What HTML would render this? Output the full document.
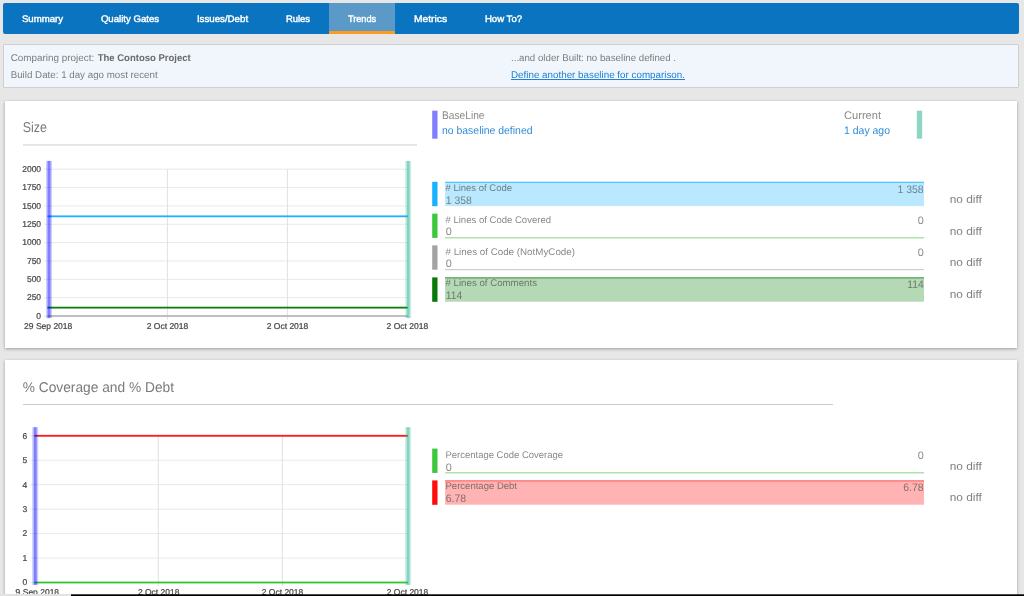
<!DOCTYPE html>
<html lang="en"><head><meta charset="utf-8"><title>Trends</title>
<style>
html,body{margin:0;padding:0;}
body{width:1024px;height:596px;overflow:hidden;background:#e7e7e7;position:relative;font-family:'Liberation Sans', Arial, sans-serif;}
.abs{position:absolute;}
#wrap{position:absolute;left:0;top:0;width:1024px;height:596px;will-change:transform;}
#nav{left:3px;top:3px;width:1016px;height:31px;background:#0b74c0;border-radius:2px;}
#act{left:329px;top:3px;width:66px;height:28px;background:#5a99c8;border-bottom:3px solid #fb9c1d;}
#info{left:3px;top:44px;width:1014px;height:42px;background:#f0f6fc;border:1px solid #cfcfcf;border-radius:1px;}
.card{background:#fff;box-shadow:0 1px 3px rgba(0,0,0,0.33);}
#c1{left:5px;top:101px;width:1012px;height:247px;}
#c2{left:5px;top:360px;width:1012px;height:260px;}
svg text{font-family:'Liberation Sans', Arial, sans-serif;text-rendering:geometricPrecision;white-space:pre;}
</style></head><body><div id="wrap">
<div class="abs" id="nav"></div>
<div class="abs" id="act"></div>
<div class="abs" id="info"></div>
<div class="abs card" id="c1"></div>
<div class="abs card" id="c2"></div>
<svg class="abs" style="left:0;top:0" width="1024" height="596" viewBox="0 0 1024 596">
<defs><clipPath id="clp"><rect x="15" y="580" width="100" height="20"/></clipPath></defs>
<rect x="23" y="144.30" width="394" height="1.3" fill="#dbdbdb"/>
<rect x="23" y="404.00" width="810" height="1" fill="#c9c9c9"/>
<rect x="432.2" y="110.70" width="5.3" height="28" fill="#8080ff"/>
<rect x="916.8" y="110.70" width="5.4" height="28" fill="#8fd5c3"/>
<rect x="432.2" y="181.80" width="5.3" height="24.4" fill="#1ab2ff"/>
<rect x="445.1" y="181.80" width="478.9" height="24.3" fill="#b9e8ff"/>
<rect x="445.1" y="181.80" width="478.9" height="1.0" fill="#3bbcff"/>
<rect x="432.2" y="213.60" width="5.3" height="24.3" fill="#3cc73c"/>
<rect x="445.1" y="237.20" width="478.9" height="1.2" fill="#96de96"/>
<rect x="432.2" y="245.40" width="5.3" height="24.3" fill="#a3a3a3"/>
<rect x="445.1" y="269.00" width="478.9" height="1.2" fill="#cdcdcd"/>
<rect x="432.2" y="277.40" width="5.3" height="24.4" fill="#087808"/>
<rect x="445.1" y="277.40" width="478.9" height="24.3" fill="#b5d8b5"/>
<rect x="445.1" y="277.40" width="478.9" height="1.0" fill="#3d953d"/>
<rect x="432.2" y="448.60" width="5.3" height="24.3" fill="#3cc73c"/>
<rect x="445.1" y="472.20" width="478.9" height="1.2" fill="#96de96"/>
<rect x="432.2" y="480.40" width="5.3" height="24.4" fill="#ff0d0d"/>
<rect x="445.1" y="480.40" width="478.9" height="24.3" fill="#ffb3b3"/>
<rect x="445.1" y="480.40" width="478.9" height="1.0" fill="#ff5c5c"/>
<rect x="44" y="315.50" width="363.4" height="1" fill="#e9e9e9"/>
<rect x="44" y="297.15" width="363.4" height="1" fill="#e9e9e9"/>
<rect x="44" y="278.80" width="363.4" height="1" fill="#e9e9e9"/>
<rect x="44" y="260.45" width="363.4" height="1" fill="#e9e9e9"/>
<rect x="44" y="242.10" width="363.4" height="1" fill="#e9e9e9"/>
<rect x="44" y="223.75" width="363.4" height="1" fill="#e9e9e9"/>
<rect x="44" y="205.40" width="363.4" height="1" fill="#e9e9e9"/>
<rect x="44" y="187.05" width="363.4" height="1" fill="#e9e9e9"/>
<rect x="44" y="168.70" width="363.4" height="1" fill="#e9e9e9"/>
<rect x="166.90" y="169.20" width="1" height="150.30" fill="#e2e2e2"/>
<rect x="286.90" y="169.20" width="1" height="150.30" fill="#e2e2e2"/>
<rect x="47.4" y="315.15" width="360.0" height="1.7" fill="#b6b6b6"/>
<rect x="47.4" y="215.42" width="360.3" height="1.8" fill="#1ab2ff"/>
<rect x="47.4" y="306.73" width="360.3" height="1.8" fill="#0a7d0a"/>
<rect x="46.05" y="160.9" width="6" height="157.2" fill="#0000ff" fill-opacity="0.2"/>
<rect x="47.60" y="160.9" width="2.9" height="157.2" fill="#0000ff" fill-opacity="0.38"/>
<rect x="405.20" y="160.9" width="6" height="157.2" fill="#0bab87" fill-opacity="0.2"/>
<rect x="406.75" y="160.9" width="2.9" height="157.2" fill="#0bab87" fill-opacity="0.38"/>
<rect x="30" y="582.00" width="377.5" height="1" fill="#e9e9e9"/>
<rect x="30" y="557.55" width="377.5" height="1" fill="#e9e9e9"/>
<rect x="30" y="533.10" width="377.5" height="1" fill="#e9e9e9"/>
<rect x="30" y="508.65" width="377.5" height="1" fill="#e9e9e9"/>
<rect x="30" y="484.20" width="377.5" height="1" fill="#e9e9e9"/>
<rect x="30" y="459.75" width="377.5" height="1" fill="#e9e9e9"/>
<rect x="30" y="435.30" width="377.5" height="1" fill="#e9e9e9"/>
<rect x="157.80" y="435.80" width="1" height="150.20" fill="#e2e2e2"/>
<rect x="281.90" y="435.80" width="1" height="150.20" fill="#e2e2e2"/>
<rect x="34.4" y="434.90" width="373.40000000000003" height="1.8" fill="#ff1a1a"/>
<rect x="34.4" y="581.60" width="373.40000000000003" height="1.8" fill="#2fc62f"/>
<rect x="32.20" y="427.2" width="6" height="157.7" fill="#0000ff" fill-opacity="0.2"/>
<rect x="33.75" y="427.2" width="2.9" height="157.7" fill="#0000ff" fill-opacity="0.38"/>
<rect x="405.10" y="427.2" width="6" height="157.7" fill="#0bab87" fill-opacity="0.2"/>
<rect x="406.65" y="427.2" width="2.9" height="157.7" fill="#0bab87" fill-opacity="0.38"/>
<text x="21.9" y="22" font-size="9.5" fill="#fff" textLength="41.2" lengthAdjust="spacingAndGlyphs" stroke="#fff" stroke-width="0.4">Summary</text>
<text x="100.9" y="22" font-size="9.5" fill="#fff" textLength="58.2" lengthAdjust="spacingAndGlyphs" stroke="#fff" stroke-width="0.4">Quality Gates</text>
<text x="196.9" y="22" font-size="9.5" fill="#fff" textLength="51.2" lengthAdjust="spacingAndGlyphs" stroke="#fff" stroke-width="0.4">Issues/Debt</text>
<text x="285.9" y="22" font-size="9.5" fill="#fff" textLength="24.2" lengthAdjust="spacingAndGlyphs" stroke="#fff" stroke-width="0.4">Rules</text>
<text x="347.9" y="22" font-size="9.5" fill="#fff" textLength="28.2" lengthAdjust="spacingAndGlyphs" stroke="#fff" stroke-width="0.4">Trends</text>
<text x="413.9" y="22" font-size="9.5" fill="#fff" textLength="33.2" lengthAdjust="spacingAndGlyphs" stroke="#fff" stroke-width="0.4">Metrics</text>
<text x="484.9" y="22" font-size="9.5" fill="#fff" textLength="37.2" lengthAdjust="spacingAndGlyphs" stroke="#fff" stroke-width="0.4">How To?</text>
<text x="10.7" y="61" font-size="9.8" fill="#7c7c7c" textLength="83.5" lengthAdjust="spacingAndGlyphs">Comparing project:</text>
<text x="97.7" y="61" font-size="9.8" fill="#6a6a6a" textLength="93" lengthAdjust="spacingAndGlyphs" font-weight="bold">The Contoso Project</text>
<text x="10.7" y="78" font-size="9.8" fill="#7c7c7c" textLength="147" lengthAdjust="spacingAndGlyphs">Build Date: 1 day ago most recent</text>
<text x="511" y="61" font-size="9.8" fill="#7c7c7c" textLength="165" lengthAdjust="spacingAndGlyphs">...and older Built: no baseline defined .</text>
<text x="511" y="78" font-size="9.8" fill="#1c7fd6" textLength="174" lengthAdjust="spacingAndGlyphs" text-decoration="underline">Define another baseline for comparison.</text>
<text x="22.7" y="132" font-size="14.2" fill="#7a7a7a" textLength="24.2" lengthAdjust="spacingAndGlyphs">Size</text>
<text x="442" y="119" font-size="11.2" fill="#8a8a8a" textLength="42.5" lengthAdjust="spacingAndGlyphs">BaseLine</text>
<text x="442" y="134" font-size="10.9" fill="#2f8bd9" textLength="90.5" lengthAdjust="spacingAndGlyphs">no baseline defined</text>
<text x="844" y="119" font-size="11.2" fill="#8a8a8a" textLength="37" lengthAdjust="spacingAndGlyphs">Current</text>
<text x="844" y="134" font-size="10.9" fill="#2f8bd9" textLength="46" lengthAdjust="spacingAndGlyphs">1 day ago</text>
<text x="445.5" y="191" font-size="9.6" fill="#3c3c3c" textLength="66.5" lengthAdjust="spacingAndGlyphs" fill-opacity="0.62"># Lines of Code</text>
<text x="445.7" y="204" font-size="10.9" fill="#3c3c3c" textLength="26.2" lengthAdjust="spacingAndGlyphs" fill-opacity="0.6">1 358</text>
<text x="923.7" y="193" font-size="10.9" fill="#3c3c3c" text-anchor="end" textLength="26.2" lengthAdjust="spacingAndGlyphs" fill-opacity="0.6">1 358</text>
<text x="949.7" y="203" font-size="11.2" fill="#828282" textLength="32.2" lengthAdjust="spacingAndGlyphs">no diff</text>
<text x="445.5" y="223" font-size="9.6" fill="#3c3c3c" textLength="105.5" lengthAdjust="spacingAndGlyphs" fill-opacity="0.62"># Lines of Code Covered</text>
<text x="445.7" y="235" font-size="10.9" fill="#3c3c3c" fill-opacity="0.6">0</text>
<text x="923.7" y="224" font-size="10.9" fill="#3c3c3c" text-anchor="end" fill-opacity="0.6">0</text>
<text x="949.7" y="235" font-size="11.2" fill="#828282" textLength="32.2" lengthAdjust="spacingAndGlyphs">no diff</text>
<text x="445.5" y="255" font-size="9.6" fill="#3c3c3c" textLength="129.5" lengthAdjust="spacingAndGlyphs" fill-opacity="0.62"># Lines of Code (NotMyCode)</text>
<text x="445.7" y="267" font-size="10.9" fill="#3c3c3c" fill-opacity="0.6">0</text>
<text x="923.7" y="256" font-size="10.9" fill="#3c3c3c" text-anchor="end" fill-opacity="0.6">0</text>
<text x="949.7" y="266" font-size="11.2" fill="#828282" textLength="32.2" lengthAdjust="spacingAndGlyphs">no diff</text>
<text x="445.5" y="286" font-size="9.6" fill="#3c3c3c" textLength="91.5" lengthAdjust="spacingAndGlyphs" fill-opacity="0.62"># Lines of Comments</text>
<text x="445.7" y="299" font-size="10.9" fill="#3c3c3c" textLength="16.5" lengthAdjust="spacingAndGlyphs" fill-opacity="0.6">114</text>
<text x="923.7" y="288" font-size="10.9" fill="#3c3c3c" text-anchor="end" textLength="16.5" lengthAdjust="spacingAndGlyphs" fill-opacity="0.6">114</text>
<text x="949.7" y="298" font-size="11.2" fill="#828282" textLength="32.2" lengthAdjust="spacingAndGlyphs">no diff</text>
<text x="22.7" y="392" font-size="14.2" fill="#7a7a7a" textLength="151.3" lengthAdjust="spacingAndGlyphs">% Coverage and % Debt</text>
<text x="445.5" y="458" font-size="9.6" fill="#3c3c3c" textLength="117.5" lengthAdjust="spacingAndGlyphs" fill-opacity="0.62">Percentage Code Coverage</text>
<text x="445.7" y="471" font-size="10.9" fill="#3c3c3c" fill-opacity="0.6">0</text>
<text x="923.7" y="459" font-size="10.9" fill="#3c3c3c" text-anchor="end" fill-opacity="0.6">0</text>
<text x="949.7" y="470" font-size="11.2" fill="#828282" textLength="32.2" lengthAdjust="spacingAndGlyphs">no diff</text>
<text x="445.5" y="489" font-size="9.6" fill="#3c3c3c" textLength="71.5" lengthAdjust="spacingAndGlyphs" fill-opacity="0.62">Percentage Debt</text>
<text x="445.7" y="502" font-size="10.9" fill="#3c3c3c" textLength="20.5" lengthAdjust="spacingAndGlyphs" fill-opacity="0.6">6.78</text>
<text x="923.7" y="491" font-size="10.9" fill="#3c3c3c" text-anchor="end" textLength="20.5" lengthAdjust="spacingAndGlyphs" fill-opacity="0.6">6.78</text>
<text x="949.7" y="501" font-size="11.2" fill="#828282" textLength="32.2" lengthAdjust="spacingAndGlyphs">no diff</text>
<text x="41.1" y="319" font-size="8.5" fill="#484848" text-anchor="end" stroke="#484848" stroke-width="0.22">0</text>
<text x="41.1" y="300" font-size="8.5" fill="#484848" text-anchor="end" stroke="#484848" stroke-width="0.22">250</text>
<text x="41.1" y="282" font-size="8.5" fill="#484848" text-anchor="end" stroke="#484848" stroke-width="0.22">500</text>
<text x="41.1" y="264" font-size="8.5" fill="#484848" text-anchor="end" stroke="#484848" stroke-width="0.22">750</text>
<text x="41.1" y="245" font-size="8.5" fill="#484848" text-anchor="end" stroke="#484848" stroke-width="0.22">1000</text>
<text x="41.1" y="227" font-size="8.5" fill="#484848" text-anchor="end" stroke="#484848" stroke-width="0.22">1250</text>
<text x="41.1" y="209" font-size="8.5" fill="#484848" text-anchor="end" stroke="#484848" stroke-width="0.22">1500</text>
<text x="41.1" y="190" font-size="8.5" fill="#484848" text-anchor="end" stroke="#484848" stroke-width="0.22">1750</text>
<text x="41.1" y="172" font-size="8.5" fill="#484848" text-anchor="end" stroke="#484848" stroke-width="0.22">2000</text>
<text x="48.2" y="329" font-size="8.5" fill="#484848" text-anchor="middle" stroke="#484848" stroke-width="0.22">29 Sep 2018</text>
<text x="167.5" y="329" font-size="8.5" fill="#484848" text-anchor="middle" stroke="#484848" stroke-width="0.22">2 Oct 2018</text>
<text x="287.5" y="329" font-size="8.5" fill="#484848" text-anchor="middle" stroke="#484848" stroke-width="0.22">2 Oct 2018</text>
<text x="407.4" y="329" font-size="8.5" fill="#484848" text-anchor="middle" stroke="#484848" stroke-width="0.22">2 Oct 2018</text>
<text x="27.2" y="585" font-size="8.5" fill="#484848" text-anchor="end" stroke="#484848" stroke-width="0.22">0</text>
<text x="27.2" y="561" font-size="8.5" fill="#484848" text-anchor="end" stroke="#484848" stroke-width="0.22">1</text>
<text x="27.2" y="536" font-size="8.5" fill="#484848" text-anchor="end" stroke="#484848" stroke-width="0.22">2</text>
<text x="27.2" y="512" font-size="8.5" fill="#484848" text-anchor="end" stroke="#484848" stroke-width="0.22">3</text>
<text x="27.2" y="488" font-size="8.5" fill="#484848" text-anchor="end" stroke="#484848" stroke-width="0.22">4</text>
<text x="27.2" y="463" font-size="8.5" fill="#484848" text-anchor="end" stroke="#484848" stroke-width="0.22">5</text>
<text x="27.2" y="439" font-size="8.5" fill="#484848" text-anchor="end" stroke="#484848" stroke-width="0.22">6</text>
<text x="35.0" y="595" font-size="8.5" fill="#484848" text-anchor="middle" stroke="#484848" stroke-width="0.22" clip-path="url(#clp)">29 Sep 2018</text>
<text x="158.7" y="595" font-size="8.5" fill="#484848" text-anchor="middle" stroke="#484848" stroke-width="0.22">2 Oct 2018</text>
<text x="282.5" y="595" font-size="8.5" fill="#484848" text-anchor="middle" stroke="#484848" stroke-width="0.22">2 Oct 2018</text>
<text x="407.5" y="595" font-size="8.5" fill="#484848" text-anchor="middle" stroke="#484848" stroke-width="0.22">2 Oct 2018</text>
</svg>
<!-- bottom strip -->
<div class="abs" style="left:0;top:594px;width:71px;height:2px;background:#e2e2e2"></div>
<div class="abs" style="left:71px;top:594px;width:953px;height:1px;background:rgba(0,0,0,0.7)"></div>
<div class="abs" style="left:71px;top:595px;width:953px;height:1px;background:#000"></div>
</div></body></html>
